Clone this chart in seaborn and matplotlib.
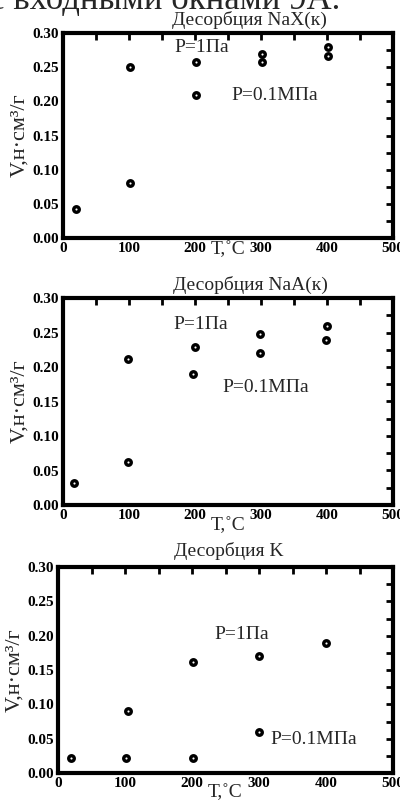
import matplotlib
matplotlib.use("Agg")
import matplotlib.pyplot as plt
import seaborn as sns
import pandas as pd
import numpy as np

sns.set_theme(style="white")
plt.rcParams['font.family'] = ['Liberation Serif', 'DejaVu Serif']

titles = ["Десорбция NaX(к)", "Десорбция NaA(к)", "Десорбция K"]

# NaX(k)
t1_low = [20, 102, 202, 302, 402]
v1_low = [0.042, 0.25, 0.258, 0.269, 0.279]
t1_high = [101, 202, 302, 402]
v1_high = [0.081, 0.209, 0.257, 0.267]

# NaA(k)
t2_low = [16, 99, 200, 299, 400]
v2_low = [0.032, 0.211, 0.229, 0.248, 0.259]
t2_high = [98, 197, 299, 398]
v2_high = [0.062, 0.19, 0.22, 0.239]

# K
t3_low = [20, 104, 201, 300, 400]
v3_low = [0.022, 0.091, 0.161, 0.17, 0.19]
t3_high = [101, 201, 300]
v3_high = [0.022, 0.022, 0.059]

series = [
    (t1_low, v1_low, t1_high, v1_high),
    (t2_low, v2_low, t2_high, v2_high),
    (t3_low, v3_low, t3_high, v3_high),
]
label_low = "P=1Па"
label_high = "P=0.1МПа"
low_pos = [(169, 0.279), (167, 0.261), (234, 0.202)]
high_pos = [(255, 0.209), (241, 0.171), (317, 0.049)]

W, H = 400, 805
fig = plt.figure(figsize=(W / 100, H / 100), dpi=100)

# axes boxes in pixels: left, top, right, bottom
boxes = [(63, 33, 393, 238), (63, 298, 393, 505), (58, 567, 393, 773)]
title_pos = [(249, 20), (250, 285), (229, 551)]
xlab_y = [250, 526, 793]

fig.text(-11 / W, 1 - 9 / H, "с входными окнами 9А.", ha='left', va='baseline',
         fontsize=25)

for i, (box, ser) in enumerate(zip(boxes, series)):
    l, t, r, b = box
    ax = fig.add_axes([l / W, 1 - b / H, (r - l) / W, (b - t) / H])
    tl, vl, th, vh = ser
    df = pd.DataFrame({"T": tl + th, "V": vl + vh,
                       "P": [label_low] * len(tl) + [label_high] * len(th)})
    sns.scatterplot(data=df, x="T", y="V", ax=ax, marker='o', s=16,
                    color='white', edgecolor='black', linewidth=2.4,
                    legend=False, zorder=3)
    ax.set_xlim(0, 500)
    ax.set_ylim(0, 0.30)
    ax.set_xticks(np.arange(0, 501, 100))
    ax.set_xticks(np.arange(0, 501, 50), minor=True)
    ax.set_yticks(np.arange(0, 0.301, 0.05))
    ax.set_yticks(np.arange(0, 0.301, 0.025), minor=True)
    ax.set_xticklabels([str(x) for x in range(0, 501, 100)])
    ax.set_yticklabels([f"{y:.2f}" for y in np.arange(0, 0.301, 0.05)])
    ax.tick_params(which='both', direction='in', top=True, right=True,
                   width=2, colors='black', labelsize=11, pad=3)
    ax.tick_params(which='major', length=5)
    ax.tick_params(which='minor', length=5)
    for tick in ax.get_xticklabels() + ax.get_yticklabels():
        tick.set_fontweight('bold')
    for s in ax.spines.values():
        s.set_linewidth(3)
        s.set_color('black')
    ax.set_xlabel("")
    ax.set_ylabel("V,н·см³/г", fontsize=16, labelpad=2)
    fig.text((l + r) / 2 / W, 1 - xlab_y[i] / H, "T,˚C", ha='center',
             va='center', fontsize=14)
    fig.text(title_pos[i][0] / W, 1 - title_pos[i][1] / H, titles[i],
             ha='center', va='center', fontsize=14)
    ax.text(low_pos[i][0], low_pos[i][1], label_low, fontsize=14,
            va='center', ha='left')
    ax.text(high_pos[i][0], high_pos[i][1], label_high, fontsize=14,
            va='center', ha='left')

fig.savefig("out.png", dpi=100)
